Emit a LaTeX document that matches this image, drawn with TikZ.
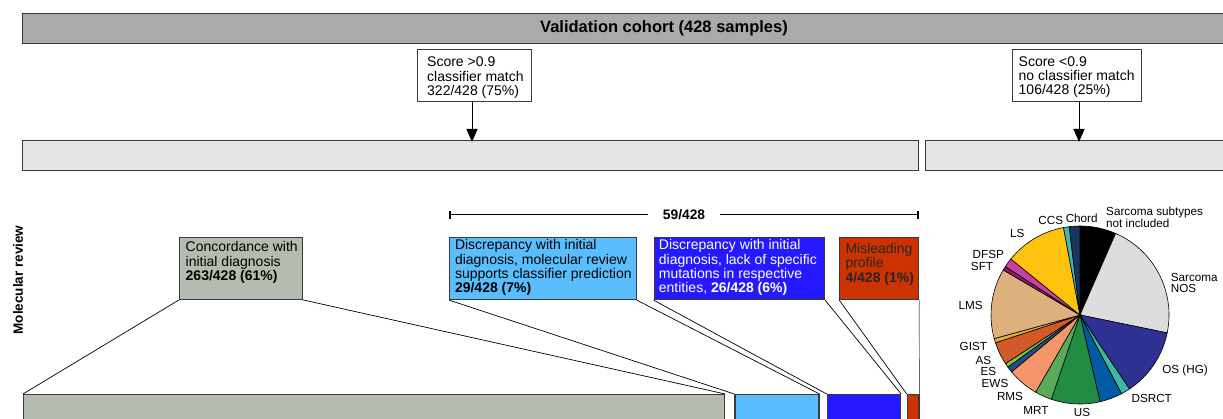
\documentclass[tikz,border=0pt]{standalone}
\usepackage{fontspec}
\setmainfont{Liberation Sans}
\usetikzlibrary{arrows.meta}
\definecolor{titlegray}{HTML}{AAAAAA}
\definecolor{bordergray}{HTML}{3A3A3A}
\definecolor{lightbar}{HTML}{E4E4E4}
\definecolor{concord}{HTML}{B4BCB0}
\definecolor{lblue}{HTML}{5ABEFE}
\definecolor{vblue}{HTML}{2419FF}
\definecolor{mred}{HTML}{CC3300}
\definecolor{pgrey}{HTML}{DDDDDD}
\definecolor{pos}{HTML}{2E3192}
\definecolor{pdsrct}{HTML}{3CB9A0}
\definecolor{pblue}{HTML}{005BA0}
\definecolor{pgreen}{HTML}{228B44}
\definecolor{pmrt}{HTML}{5AAA5A}
\definecolor{prms}{HTML}{F4956A}
\definecolor{pews}{HTML}{1F4E8C}
\definecolor{pes}{HTML}{7DC242}
\definecolor{pas}{HTML}{D2592A}
\definecolor{pgist}{HTML}{E0B030}
\definecolor{plms}{HTML}{DEB07E}
\definecolor{psft}{HTML}{8B1A6E}
\definecolor{pdfsp}{HTML}{C840A0}
\definecolor{pls}{HTML}{FFC20E}
\definecolor{pccs}{HTML}{3CB9B4}
\definecolor{pchord}{HTML}{1A3560}
\newcommand{\boxfont}{\fontsize{14}{14.2}\selectfont}
\newcommand{\lblfont}{\fontsize{11.7}{11.8}\selectfont}
\begin{document}
\begin{tikzpicture}[x=1pt,y=-1pt,
  bar/.style={draw=bordergray, line width=1.3pt, anchor=north west, inner sep=0pt},
  tbox/.style={draw=bordergray, line width=0.9pt, anchor=north west, inner sep=0pt},
  btext/.style={anchor=north west, inner sep=0pt, align=left, font=\boxfont},
  conn/.style={draw=black, line width=0.7pt},
  arr/.style={line width=1pt, -{Triangle[length=13pt,width=11pt]}},
  lbl/.style={font=\lblfont, inner sep=0pt, align=left},
  slice/.style={draw=black, line width=0.6pt}
]
\clip (0,0) rectangle (1223,419);
\fill[white] (0,0) rectangle (1223,419);

% top bar
\node[bar, fill=titlegray, minimum width=1240pt, minimum height=30pt] (title) at (22,13) {};
\node[font=\bfseries\fontsize{16.5}{18}\selectfont, inner sep=0pt] (titletext) at (664,28) {Validation cohort (428 samples)};

% score boxes
\node[tbox, fill=white, minimum width=114pt, minimum height=52pt] (s1) at (417,49) {};
\node[btext] (s1t) at ([shift={(10,8)}]s1.north west) {Score >0.9\\classifier match\\322/428 (75\%)};
\node[tbox, fill=white, minimum width=129pt, minimum height=52pt] (s2) at (1012,49) {};
\node[btext] (s2t) at ([shift={(6.5,7.5)}]s2.north west) {Score <0.9\\no classifier match\\106/428 (25\%)};

% light bars
\node[bar, fill=lightbar, line width=1.1pt, minimum width=896pt, minimum height=30pt] (lb1) at (22,140) {};
\node[bar, fill=lightbar, line width=1.1pt, minimum width=320pt, minimum height=30pt] (lb2) at (925,140) {};

\draw[arr] (s1.south -| 472,0) -- ([yshift=-2pt]lb1.north -| 472,0);
\draw[arr] (s2.south -| 1079,0) -- ([yshift=-2pt]lb2.north -| 1079,0);

% molecular review
\node[rotate=90, font=\bfseries\fontsize{13.5}{14}\selectfont, inner sep=0pt] (mol) at (18,280) {Molecular review};

% 59/428 bracket
\node[font=\bfseries\fontsize{13.8}{14}\selectfont, inner ysep=0pt, inner xsep=15pt] (n59) at (684,215) {59/428};
\coordinate (bl) at (450,215);
\coordinate (br) at (918,215);
\draw[line width=1pt] (bl) -- (n59);
\draw[line width=1pt] (n59) -- (br);
\draw[line width=1.4pt] ([yshift=-4pt]bl) -- ([yshift=4pt]bl);
\draw[line width=1.4pt] ([yshift=-4pt]br) -- ([yshift=4pt]br);

% category boxes
\node[tbox, fill=concord, minimum width=123pt, minimum height=62pt] (conc) at (179,237) {};
\node[btext] (conct) at ([shift={(6.5,4.5)}]conc.north west) {Concordance with\\initial diagnosis\\\textbf{263/428 (61\%)}};

\node[tbox, fill=lblue, minimum width=186.7pt, minimum height=62.5pt] (disc1) at (449.3,236.8) {};
\node[btext] (disc1t) at ([shift={(5.5,2.7)}]disc1.north west) {Discrepancy with initial\\diagnosis, molecular review\\supports classifier prediction\\\textbf{29/428 (7\%)}};

\node[tbox, fill=vblue, minimum width=170.6pt, minimum height=62.5pt] (disc2) at (653.7,236.8) {};
\node[btext, text=white] (disc2t) at ([shift={(5,2.7)}]disc2.north west) {Discrepancy with initial\\diagnosis, lack of specific\\mutations in respective\\entities, \textbf{26/428 (6\%)}};

\node[tbox, fill=mred, minimum width=79pt, minimum height=62.5pt] (mis) at (839.3,236.8) {};
\node[btext, text=black!85] (mist) at ([shift={(6,6.5)}]mis.north west) {Misleading\\profile\\\textbf{4/428 (1\%)}};

% bottom boxes
\node[tbox, fill=concord, line width=1.2pt, minimum width=701pt, minimum height=40pt] (bconc) at (23,394) {};
\node[tbox, fill=lblue, line width=1.2pt, minimum width=84pt, minimum height=40pt] (bdisc1) at (734.3,394) {};
\node[tbox, fill=vblue, line width=1.2pt, minimum width=73.3pt, minimum height=40pt] (bdisc2) at (826.7,394) {};
\node[tbox, fill=mred, line width=1.2pt, minimum width=11.6pt, minimum height=40pt] (bmis) at (906.7,394) {};

% connectors
\draw[conn] (conc.south west) -- (bconc.north west);
\draw[conn] (conc.south east) -- (bconc.north east);
\draw[conn] (disc1.south west) -- (bdisc1.north west);
\draw[conn] (disc1.south east) -- (bdisc1.north east);
\draw[conn] (disc2.south west) -- (bdisc2.north west);
\draw[conn] (disc2.south east) -- (bdisc2.north east);
\draw[conn] (mis.south west) -- (bmis.north west);
\draw[conn, draw=black!60] (mis.south east) -- (bmis.north east);

% pie chart
\begin{scope}[shift={(1080,315)}, yscale=-1]
\def\R{89}
\foreach \a/\b/\c in {66.4/90/black, -11.6/66.4/pgrey, -56.3/-11.6/pos, -62.2/-56.3/pdsrct,
  -77/-62.2/pblue, -108.8/-77/pgreen, -119.9/-108.8/pmrt, -140.3/-119.9/prms,
  -144.2/-140.3/pews, -146.9/-144.2/pes, -161.8/-146.9/pas, -164.6/-161.8/pgist,
  149.6/195.4/plms, 147/149.6/psft, 141/147/pdfsp, 100.7/141/pls, 97/100.7/pccs, 90/97/pchord}
{
  \filldraw[slice, fill=\c] (0,0) -- (\a:\R) arc[start angle=\a, end angle=\b, radius=\R] -- cycle;
}
\end{scope}

% pie labels
\node[lbl] (lchord) at (1081.7,218.3) {Chord};
\node[lbl] (lccs) at (1050.7,220) {CCS};
\node[lbl, anchor=west] (lsub) at (1106,217.5) {Sarcoma subtypes\\not included};
\node[lbl] (lls) at (1017.3,233.3) {LS};
\node[lbl] (ldfsp) at (988.3,254.3) {DFSP};
\node[lbl] (lsft) at (982,266) {SFT};
\node[lbl] (llms) at (970.7,305.7) {LMS};
\node[lbl] (lgist) at (973.3,346) {GIST};
\node[lbl] (las) at (983.3,360.7) {AS};
\node[lbl] (les) at (988.3,371.7) {ES};
\node[lbl] (lews) at (995,383.3) {EWS};
\node[lbl] (lrms) at (1010,396.7) {RMS};
\node[lbl] (lmrt) at (1036,410.7) {MRT};
\node[lbl] (lus) at (1082,412) {US};
\node[lbl] (ldsrct) at (1151.7,398.3) {DSRCT};
\node[lbl] (los) at (1185,370) {OS (HG)};
\node[lbl, anchor=west] (lnos) at (1170.7,283) {Sarcoma\\NOS};
\end{tikzpicture}
\end{document}
